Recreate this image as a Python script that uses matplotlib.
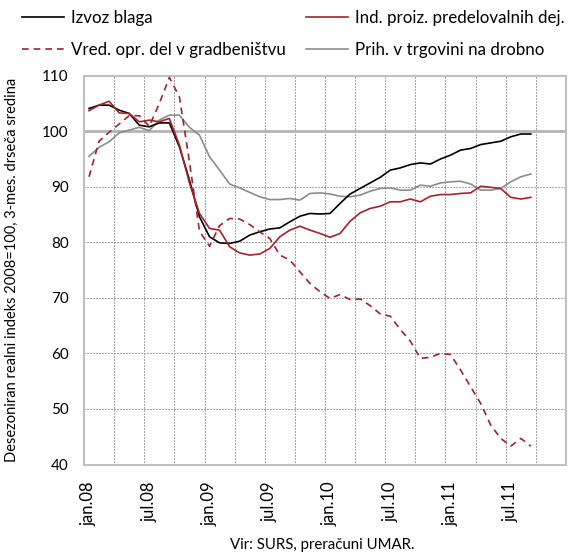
import matplotlib
matplotlib.use('Agg')
import matplotlib.pyplot as plt
import numpy as np

# ---- data (monthly, jan.08 .. sep.11) ----
izvoz = [104.1, 104.7, 104.7, 103.8, 103.2, 101.1, 100.8, 101.5, 101.5, 97.2,
         91.2, 84.6, 81.0, 79.9, 79.8, 80.2, 81.3, 81.9, 82.4, 82.6,
         83.7, 84.7, 85.2, 85.1, 85.2, 87.0, 88.7, 89.7, 90.7, 91.7,
         93.0, 93.4, 94.0, 94.3, 94.1, 95.0, 95.7, 96.6, 96.9, 97.6,
         97.9, 98.2, 99.0, 99.5, 99.5]
ind_proiz = [103.7, 104.7, 105.4, 103.3, 103.2, 101.7, 102.0, 101.7, 102.3, 97.5,
             90.7, 85.2, 82.5, 82.2, 79.2, 78.1, 77.7, 77.9, 78.9, 81.0,
             82.2, 82.9, 82.2, 81.6, 80.9, 81.6, 83.8, 85.3, 86.1, 86.5,
             87.3, 87.3, 87.8, 87.3, 88.3, 88.6, 88.6, 88.8, 88.9, 90.1,
             89.9, 89.7, 88.1, 87.8, 88.1]
gradb = [91.8, 98.2, 99.8, 101.3, 102.8, 102.8, 100.9, 105.0, 109.7, 106.2,
         94.5, 82.0, 79.3, 83.0, 84.3, 84.2, 83.2, 81.9, 80.7, 77.7,
         76.8, 74.7, 72.6, 71.1, 69.9, 70.6, 69.7, 69.8, 68.6, 67.1,
         66.7, 64.3, 62.2, 59.1, 59.3, 60.0, 59.8, 57.0, 54.0, 51.0,
         47.1, 44.7, 43.3, 44.7, 43.3]
trgovina = [95.5, 97.1, 98.1, 99.7, 100.2, 100.7, 100.1, 102.0, 102.9, 102.9,
            100.7, 99.3, 95.4, 93.0, 90.5, 89.8, 89.0, 88.2, 87.7, 87.7,
            87.9, 87.6, 88.8, 88.9, 88.7, 88.3, 88.2, 88.5, 89.2, 89.7,
            89.8, 89.4, 89.4, 90.3, 90.1, 90.7, 90.9, 91.0, 90.5, 89.4,
            89.4, 89.7, 90.9, 91.8, 92.3]
tick_labels = ['jan.08', 'jul.08', 'jan.09', 'jul.09', 'jan.10', 'jul.10', 'jan.11', 'jul.11']
series_names = ['Izvoz blaga', 'Ind. proiz. predelovalnih dej.',
                'Vred. opr. del v gradbeništvu', 'Prih. v trgovini na drobno']
n_categories = 48  # axis spans jan.08 .. dec.11

plt.rcParams['font.family'] = ['Lato', 'DejaVu Sans']

RED = '#a8202a'
GRAY = '#8c8c8c'
SPINE = '#bfbfbf'
GRID = '#a8a8a8'

fig = plt.figure(figsize=(5.76, 5.53), dpi=100)
ax = fig.add_axes([84/576, 1-464.5/553, (566-84)/576, (464.5-75.7)/553])

x = np.arange(len(izvoz))
l1, = ax.plot(x, izvoz, color='black', lw=1.2, label=series_names[0], zorder=3)
l2, = ax.plot(x, ind_proiz, color=RED, lw=1.2, label=series_names[1], zorder=3)
l3, = ax.plot(x, gradb, color=RED, lw=1.2, dashes=(4, 3), label=series_names[2], zorder=3)
l4, = ax.plot(x, trgovina, color=GRAY, lw=1.2, label=series_names[3], zorder=2.5)

ax.set_xlim(-0.5, n_categories - 0.5)
ax.set_ylim(40, 110)
ax.set_yticks(np.arange(40, 111, 10))
ax.set_xticks(np.arange(0, 6*len(tick_labels), 6))
ax.set_xticklabels(tick_labels, rotation=90, fontsize=12)
ax.tick_params(axis='x', which='both', length=0, pad=12)
ax.tick_params(axis='y', length=0, pad=11, labelsize=11)

# grid (dotted)
grid_kw = dict(color=GRID, lw=0.75, linestyle=(0, (1.4, 1.4)), antialiased=False, zorder=1)
for yv in [50, 60, 70, 80, 90, 110]:
    ax.plot([-0.5, n_categories - 0.5], [yv, yv], **grid_kw)
for xv in np.arange(2.5, n_categories - 1, 3):
    ax.plot([xv, xv], [40, 110], **grid_kw)
ax.axhline(100, color='#b3b3b3', lw=2.0, zorder=1.5)

for s in ax.spines.values():
    s.set_color(SPINE)
    s.set_linewidth(1.5)

fig.text(12/576, 1-270/553, 'Desezoniran realni indeks 2008=100, 3-mes. drseča sredina',
         rotation=90, ha='center', va='center', fontsize=10.5)
fig.text(322/576, 1-545/553, 'Vir: SURS, preračuni UMAR.', ha='center', va='center', fontsize=10.8)

leg_kw = dict(frameon=False, fontsize=12.2, handlelength=2.5, handletextpad=0.4,
              labelspacing=0.95, borderpad=0, borderaxespad=0, loc='upper left')
leg1 = fig.legend(handles=[l1, l3], bbox_to_anchor=(22/576, 1-10/553), **leg_kw)
leg2 = fig.legend(handles=[l2, l4], bbox_to_anchor=(306/576, 1-10/553), **leg_kw)

fig.savefig('out.png', dpi=100)
